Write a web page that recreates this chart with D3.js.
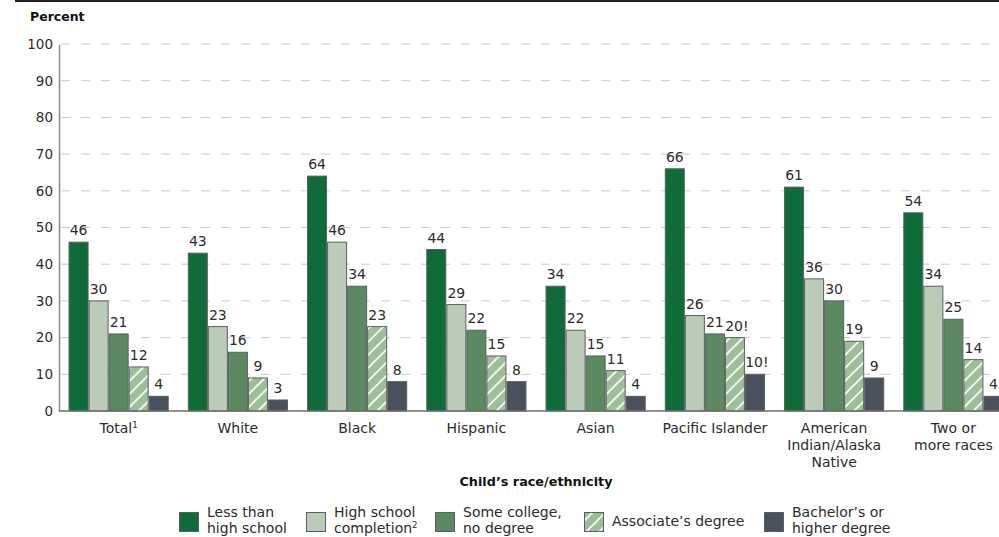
<!DOCTYPE html>
<html>
<head>
<meta charset="utf-8">
<script src="https://cdn.jsdelivr.net/npm/d3@7"></script>
<style>
  html, body { margin: 0; padding: 0; background: #fff; }
  svg { display: block; font-family: "DejaVu Sans", sans-serif; }
</style>
</head>
<body>
<svg id="chart" width="999" height="537"></svg>
<script>
// Categories (x groups); each entry is a list of label lines
const categories = ["Total", "White", "Black", "Hispanic", "Asian", "Pacific Islander", "American Indian/Alaska Native", "Two or more races"];
const categoryLines = [["Total", "1"], ["White"], ["Black"], ["Hispanic"], ["Asian"], ["Pacific Islander"], ["American", "Indian/Alaska", "Native"], ["Two or", "more races"]];

// Parent's highest education level (series)
const seriesKeys = ["lessHS", "hsCompletion", "someCollege", "associates", "bachelors"];
const seriesNames = [["Less than", "high school"], ["High school", "completion", "2"], ["Some college,", "no degree"], ["Associate\u2019s degree"], ["Bachelor\u2019s or", "higher degree"]];

// Percent values per series, in category order
const lessHS       = [46, 43, 64, 44, 34, 66, 61, 54];
const hsCompletion = [30, 23, 46, 29, 22, 26, 36, 34];
const someCollege  = [21, 16, 34, 22, 15, 21, 30, 25];
const associates   = [12,  9, 23, 15, 11, 20, 19, 14];
const bachelors    = [ 4,  3,  8,  8,  4, 10,  9,  4];
// Value labels ("!" marks interpret-with-caution estimates)
const labelFlags = {associates: [0,0,0,0,0,1,0,0], bachelors: [0,0,0,0,0,1,0,0]};

const yTicks = [0, 10, 20, 30, 40, 50, 60, 70, 80, 90, 100];

const seriesValues = {lessHS, hsCompletion, someCollege, associates, bachelors};
const colors = {
  lessHS: "#0f6b38",
  hsCompletion: "#bccab8",
  someCollege: "#5b8a60",
  associates: "#9dbe98",
  bachelors: "#4a515c"
};

const svg = d3.select("#chart");
const textColor = "#2b2b2b";
const fs = 14;

// Hatch pattern for the associate's degree series
const defs = svg.append("defs");
const pat = defs.append("pattern")
  .attr("id", "hatch")
  .attr("patternUnits", "userSpaceOnUse")
  .attr("width", 13).attr("height", 13);
pat.append("rect").attr("width", 13).attr("height", 13).attr("fill", colors.associates);
pat.append("path")
  .attr("d", "M-1,14 L14,-1 M-4,4 L4,-4 M9,17 L17,9")
  .attr("stroke", "#fff").attr("stroke-width", 1.6);

const fillFor = k => k === "associates" ? "url(#hatch)" : colors[k];

// Top rule
svg.append("rect").attr("x", 15).attr("y", 0).attr("width", 984).attr("height", 2).attr("fill", "#231f20");

// Scales
const x0 = d3.scaleBand().domain(categories).range([59, 1013]).paddingInner(0.16).paddingOuter(0.08);
const x1 = d3.scaleBand().domain(seriesKeys).range([0, x0.bandwidth()]).padding(0);
const y = d3.scaleLinear().domain([0, 100]).range([411, 44]);

// Gridlines
svg.append("g")
  .selectAll("line")
  .data(yTicks.filter(t => t > 0))
  .join("line")
  .attr("x1", 61).attr("x2", 999)
  .attr("y1", d => y(d)).attr("y2", d => y(d))
  .attr("stroke", "#c9c9c9").attr("stroke-width", 1)
  .attr("stroke-dasharray", "9,11");

// Y axis
const yAxis = svg.append("g")
  .attr("transform", "translate(59,0)")
  .call(d3.axisLeft(y).tickValues(yTicks).tickSize(0).tickPadding(6));
yAxis.select(".domain").attr("stroke", "#8c8c8c").attr("stroke-width", 1.5);
yAxis.selectAll("text").attr("font-size", 13.5).attr("fill", textColor).attr("font-family", "DejaVu Sans");

svg.append("text")
  .attr("x", 30).attr("y", 21)
  .attr("font-size", 12.5).attr("font-weight", "bold").attr("fill", "#111")
  .text("Percent");

// Bars
const groups = svg.append("g")
  .selectAll("g")
  .data(categories)
  .join("g")
  .attr("transform", d => `translate(${x0(d)},0)`);

groups.each(function(cat, ci) {
  const g = d3.select(this);
  seriesKeys.forEach(k => {
    const v = seriesValues[k][ci];
    g.append("rect")
      .attr("x", x1(k) + 0.5)
      .attr("y", y(v))
      .attr("width", x1.bandwidth() - 1)
      .attr("height", y(0) - y(v))
      .attr("fill", fillFor(k))
      .attr("stroke", "#5a5f62").attr("stroke-width", 1);
    const flag = labelFlags[k] && labelFlags[k][ci];
    g.append("text")
      .attr("x", x1(k) + x1.bandwidth() / 2 + (flag ? 2 : 0))
      .attr("y", y(v) - 7)
      .attr("text-anchor", "middle")
      .attr("font-size", fs).attr("fill", textColor)
      .text(v + (flag ? "!" : ""));
  });
});

// X axis baseline
svg.append("line")
  .attr("x1", 59).attr("x2", 999)
  .attr("y1", y(0)).attr("y2", y(0))
  .attr("stroke", "#6f6f6f").attr("stroke-width", 1.5);

// Category labels
const xl = svg.append("g");
categories.forEach((c, i) => {
  const cx = x0(c) + x0.bandwidth() / 2;
  const lines = categoryLines[i];
  if (c === "Total") {
    const t = xl.append("text").attr("x", cx).attr("y", 433)
      .attr("text-anchor", "middle").attr("font-size", fs).attr("fill", textColor);
    t.append("tspan").text(lines[0]);
    t.append("tspan").attr("font-size", 8.5).attr("dy", -5).text(lines[1]);
  } else {
    lines.forEach((ln, li) => {
      xl.append("text").attr("x", cx).attr("y", 433 + li * 17)
        .attr("text-anchor", "middle").attr("font-size", fs).attr("fill", textColor)
        .text(ln);
    });
  }
});

// X axis title
svg.append("text")
  .attr("x", (x0.range()[0] + x0.range()[1]) / 2).attr("y", 486)
  .attr("text-anchor", "middle")
  .attr("font-size", 12.8).attr("font-weight", "bold").attr("fill", "#111")
  .text("Child\u2019s race/ethnicity");

// Legend
const legendX = [179, 306, 435, 584, 764];
const legend = svg.append("g");
seriesKeys.forEach((k, i) => {
  const lx = legendX[i];
  legend.append("rect")
    .attr("x", lx + 0.5).attr("y", 512.5).attr("width", 19).attr("height", 19)
    .attr("fill", fillFor(k)).attr("stroke", "#5a5f62").attr("stroke-width", 1);
  const name = seriesNames[i];
  const tx = lx + 28;
  if (name.length === 1) {
    legend.append("text").attr("x", tx).attr("y", 526)
      .attr("font-size", fs).attr("fill", textColor).text(name[0]);
  } else {
    legend.append("text").attr("x", tx).attr("y", 517)
      .attr("font-size", fs).attr("fill", textColor).text(name[0]);
    const t2 = legend.append("text").attr("x", tx).attr("y", 533)
      .attr("font-size", fs).attr("fill", textColor);
    t2.append("tspan").text(name[1]);
    if (name[2]) t2.append("tspan").attr("font-size", 8.5).attr("dy", -5).text(name[2]);
  }
});
</script>
</body>
</html>
